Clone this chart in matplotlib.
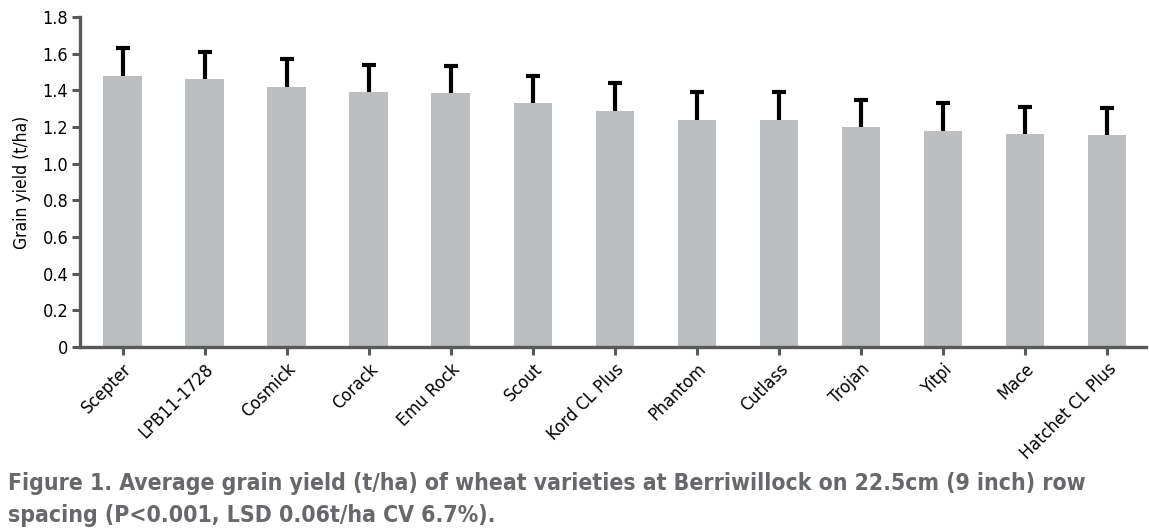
import matplotlib
matplotlib.use("Agg")
import matplotlib.pyplot as plt
import numpy as np

# Data
varieties = ["Scepter", "LPB11-1728", "Cosmick", "Corack", "Emu Rock", "Scout",
             "Kord CL Plus", "Phantom", "Cutlass", "Trojan", "Yitpi", "Mace",
             "Hatchet CL Plus"]
yield_t_ha = [1.48, 1.46, 1.42, 1.39, 1.385, 1.33, 1.29, 1.24, 1.24, 1.20, 1.18, 1.16, 1.155]
error_up = [0.15, 0.15, 0.15, 0.15, 0.15, 0.15, 0.15, 0.15, 0.15, 0.15, 0.15, 0.15, 0.15]
y_ticks = [0, 0.2, 0.4, 0.6, 0.8, 1.0, 1.2, 1.4, 1.6, 1.8]
y_tick_labels = ["0", "0.2", "0.4", "0.6", "0.8", "1.0", "1.2", "1.4", "1.6", "1.8"]

# condensed face stands in for the narrow font of the original
plt.rcParams['font.family'] = ['DejaVu Sans']
plt.rcParams['font.stretch'] = 'condensed'

axis_grey = "#58595b"
bar_grey = "#bcbec0"
caption_grey = "#67686b"

fig = plt.figure(figsize=(11.49, 5.32), dpi=100)
ax = fig.add_axes([0.0696, 0.3477, 0.9274, 0.6203])

x = np.arange(len(varieties))
ax.bar(x, yield_t_ha, width=0.47, color=bar_grey, zorder=2)
eb = ax.errorbar(x, yield_t_ha, yerr=[np.zeros(len(x)), error_up], fmt="none",
                 ecolor="black", elinewidth=3, capsize=4.7, capthick=3, zorder=3)
eb[1][0].set_visible(False)   # only the upper half of the bar is drawn

ax.set_xlim(-0.52, 12.47)
ax.set_ylim(0, 1.8)
ax.set_yticks(y_ticks)
ax.set_yticklabels(y_tick_labels)
ax.set_xticks(x)
ax.set_xticklabels(varieties, rotation=45, ha="right", rotation_mode="anchor")

for side in ["top", "right"]:
    ax.spines[side].set_visible(False)
for side in ["left", "bottom"]:
    ax.spines[side].set_color(axis_grey)
    ax.spines[side].set_linewidth(2.4)

ax.tick_params(axis="both", colors=axis_grey, width=2.2, length=5.5,
               labelcolor="black", labelsize=13)
ax.tick_params(axis="x", pad=4)
ax.tick_params(axis="y", pad=3)
ax.set_ylabel("Grain yield (t/ha)", fontsize=12.5, labelpad=8)

fig.text(0.007, 0.1128,
         "Figure 1. Average grain yield (t/ha) of wheat varieties at Berriwillock on 22.5cm (9 inch) row\n"
         "spacing (P<0.001, LSD 0.06t/ha CV 6.7%).",
         fontsize=16.5, fontweight="bold", color=caption_grey, va="top", ha="left",
         linespacing=1.5)

fig.savefig("out.png", dpi=100)
